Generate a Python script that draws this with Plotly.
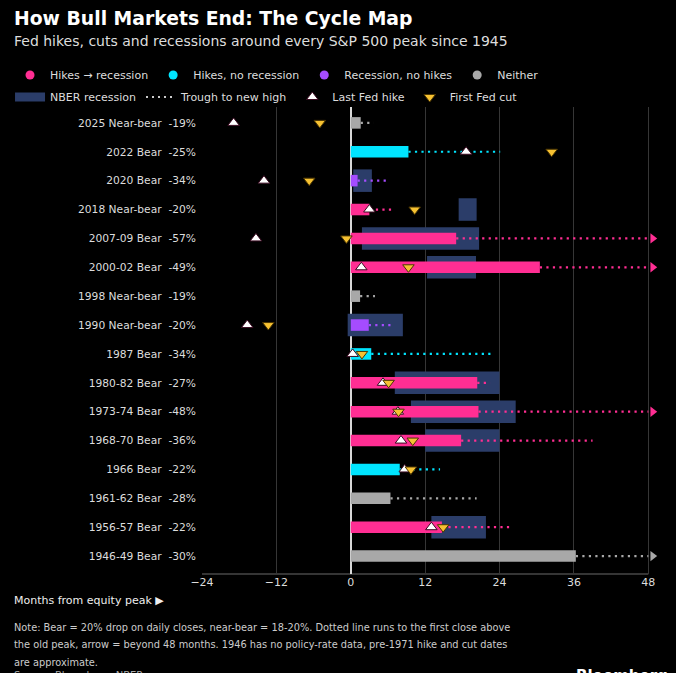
import plotly.graph_objects as go

# ---------------- data (months relative to the S&P 500 peak) ----------------
episodes = ["2025", "2022", "2020", "2018", "2007-09", "2000-02", "1998", "1990",
            "1987", "1980-82", "1973-74", "1968-70", "1966", "1961-62", "1956-57", "1946-49"]
severity = ["Near-bear", "Bear", "Bear", "Near-bear", "Bear", "Bear", "Near-bear", "Near-bear",
            "Bear", "Bear", "Bear", "Bear", "Bear", "Bear", "Bear", "Bear"]
drawdown_pct = [-19, -25, -34, -20, -57, -49, -19, -20, -34, -27, -48, -36, -22, -28, -22, -30]
category = ["Neither", "Hikes, no recession", "Recession, no hikes", "Hikes → recession",
            "Hikes → recession", "Hikes → recession", "Neither", "Recession, no hikes",
            "Hikes, no recession", "Hikes → recession", "Hikes → recession", "Hikes → recession",
            "Hikes, no recession", "Neither", "Hikes → recession", "Neither"]
peak_to_trough = [1.6, 9.3, 1.1, 3.0, 17.0, 30.5, 1.5, 2.9, 3.3, 20.4, 20.6, 17.8, 7.9, 6.4, 14.7, 36.3]
months_to_new_high = [3.7, 24.1, 6.0, 7.0, 65.5, 86.0, 3.9, 6.9, 22.6, 22.5, 90.0, 39.0, 14.4, 20.3, 25.6, 52.0]
last_hike = [-18.9, 18.6, -14.0, 3.0, -15.3, 1.7, None, -16.7, 0.3, 5.2, 7.6, 8.1, 8.7, None, 13.0, None]
first_cut = [-5.0, 32.4, -6.7, 10.3, -0.7, 9.3, None, -13.3, 1.8, 6.1, 7.7, 10.0, 9.7, None, 14.9, None]

nber_episode = ["2020", "2018", "2007-09", "2000-02", "1990", "1980-82", "1973-74", "1968-70", "1956-57"]
nber_start = [0.4, 17.4, 1.8, 12.3, -0.5, 7.1, 9.7, 12.0, 13.0]
nber_end = [3.4, 20.3, 20.7, 20.2, 8.4, 24.0, 26.6, 24.0, 21.8]

category_order = ["Hikes → recession", "Hikes, no recession", "Recession, no hikes", "Neither"]
x_ticks = [-24, -12, 0, 12, 24, 36, 48]

note_lines = [
    "Note: Bear = 20% drop on daily closes, near-bear = 18-20%. Dotted line runs to the first close above",
    "the old peak, arrow = beyond 48 months. 1946 has no policy-rate data, pre-1971 hike and cut dates",
    "are approximate.",
]

# ---------------- styling ----------------
FONT = "DejaVu Sans"
COLORS = {"Hikes → recession": "#ff2e93", "Hikes, no recession": "#00e5ff",
          "Recession, no hikes": "#a54cff", "Neither": "#a8a8a8"}
NBER_COLOR = "#2b3d69"
HIKE_COLOR = "#ffffff"
CUT_COLOR = "#f6c132"
TXT = "#dddddd"
W, H = 676, 673
X_MIN, X_MAX = -24, 48          # axis window shown with ticks / axis line
X_RANGE_MAX = 48.75             # a little room for the "beyond 48 months" arrows
ARROW_X = 48.7
L, T, B = 202, 107, 99
PX_PER_MONTH = 6.2
PLOT_W = PX_PER_MONTH * (X_RANGE_MAX - X_MIN)
R = W - L - PLOT_W
PLOT_H = H - T - B


def px_x(px):
    return (px - L) / PLOT_W


def px_y(py):
    return (H - B - py) / PLOT_H


rows = list(range(len(episodes)))
row_of = {e: i for i, e in enumerate(episodes)}
labels = [f"{e} {s}\u00a0 {d}%" for e, s, d in zip(episodes, severity, drawdown_pct)]

fig = go.Figure()

# NBER recession boxes
fig.add_trace(go.Bar(
    orientation="h",
    y=[row_of[e] for e in nber_episode],
    x=[e - s for s, e in zip(nber_start, nber_end)],
    base=nber_start,
    width=0.78,
    marker=dict(color=NBER_COLOR, line=dict(width=0)),
    showlegend=False, hoverinfo="skip",
))

# Peak-to-trough bars
fig.add_trace(go.Bar(
    orientation="h",
    y=rows,
    x=peak_to_trough,
    base=[0] * len(rows),
    width=0.4,
    marker=dict(color=[COLORS[c] for c in category], line=dict(width=0)),
    showlegend=False, hoverinfo="skip",
))

# Dotted trough-to-new-high lines and arrows
for cat in category_order:
    xs, ys, ax, ay = [], [], [], []
    for i in rows:
        if category[i] != cat:
            continue
        end = months_to_new_high[i]
        xs += [peak_to_trough[i], min(end, X_MAX), None]
        ys += [i, i, None]
        if end > X_MAX:
            ax.append(ARROW_X)
            ay.append(i)
    fig.add_trace(go.Scatter(
        x=xs, y=ys, mode="lines",
        line=dict(color=COLORS[cat], width=2.2, dash="2.2px,4.3px"),
        showlegend=False, hoverinfo="skip",
    ))
    if ax:
        fig.add_trace(go.Scatter(
            x=ax, y=ay, mode="markers", cliponaxis=False,
            marker=dict(symbol="triangle-right", size=9, color=COLORS[cat], line=dict(width=0)),
            showlegend=False, hoverinfo="skip",
        ))

# Legend row 1: category dots
for cat in category_order:
    fig.add_trace(go.Scatter(
        x=[None], y=[None], mode="markers", name=cat, legend="legend",
        marker=dict(symbol="circle", size=9, color=COLORS[cat]),
    ))

# Legend row 2
fig.add_trace(go.Scatter(
    x=[None], y=[None], mode="lines", name="NBER recession", legend="legend2",
    line=dict(color=NBER_COLOR, width=9),
))
fig.add_trace(go.Scatter(
    x=[None], y=[None], mode="lines", name="Trough to new high", legend="legend2",
    line=dict(color="#cccccc", width=2, dash="2px,4px"),
))
fig.add_trace(go.Scatter(
    x=last_hike, y=rows, mode="markers", name="Last Fed hike", legend="legend2",
    cliponaxis=False, hoverinfo="skip",
    marker=dict(symbol="triangle-up", size=10, color=HIKE_COLOR, line=dict(color="#3a0a20", width=1)),
))
fig.add_trace(go.Scatter(
    x=first_cut, y=rows, mode="markers", name="First Fed cut", legend="legend2",
    cliponaxis=False, hoverinfo="skip",
    marker=dict(symbol="triangle-down", size=10, color=CUT_COLOR, line=dict(color="#4a3500", width=1)),
))

legend_common = dict(
    orientation="h", xref="paper", yref="paper",
    xanchor="left", yanchor="middle",
    font=dict(family=FONT, size=11, color=TXT),
    bgcolor="rgba(0,0,0,0)", borderwidth=0, itemwidth=30,
)

annotations = [
    dict(text="Fed hikes, cuts and recessions around every S&P 500 peak since 1945",
         x=px_x(12), y=px_y(41), font=dict(size=14, color=TXT)),
    dict(text="Months from equity peak ▶", x=px_x(12), y=px_y(600),
         font=dict(size=11, color="#eeeeee")),
    dict(text="Source: Bloomberg, NBER", x=px_x(12), y=px_y(675),
         font=dict(size=10, color="#aaaaaa")),
    dict(text="<b>Bloomberg</b>", x=px_x(670), y=px_y(676), xanchor="right",
         font=dict(size=15, color="#ffffff")),
]
for k, line in enumerate(note_lines):
    annotations.append(dict(text=line, x=px_x(12), y=px_y(627 + 17.5 * k),
                            font=dict(size=9.8, color="#cccccc")))
for a in annotations:
    a.setdefault("xanchor", "left")
    a.update(xref="paper", yref="paper", yanchor="middle", showarrow=False)
    a["font"]["family"] = FONT

fig.update_layout(
    width=W, height=H,
    margin=dict(l=L, r=R, t=T, b=B, pad=0, autoexpand=False),
    paper_bgcolor="#000000", plot_bgcolor="#000000",
    font=dict(family=FONT, color=TXT),
    barmode="overlay",
    title=dict(text="<b>How Bull Markets End: The Cycle Map</b>",
               xref="container", yref="container", x=14 / W, y=1 - 18 / H,
               xanchor="left", yanchor="middle",
               font=dict(family=FONT, size=18.8, color="#ffffff")),
    legend=dict(legend_common, x=px_x(10), y=px_y(75)),
    legend2=dict(legend_common, x=px_x(10), y=px_y(97)),
    xaxis=dict(range=[X_MIN, X_RANGE_MAX], tickvals=x_ticks, showgrid=True, gridcolor="#363636",
               gridwidth=1, zeroline=True, zerolinecolor="#d8d8d8", zerolinewidth=1.5,
               showline=False, ticks="", tickfont=dict(size=11, color=TXT), fixedrange=True),
    yaxis=dict(range=[15.62, -0.55], tickvals=rows, ticktext=labels, showgrid=False,
               zeroline=False, showline=False, ticks="", ticklabelstandoff=5,
               tickfont=dict(size=10.7, color=TXT), fixedrange=True),
    shapes=[dict(type="line", xref="x", yref="paper", x0=X_MIN, x1=X_MAX, y0=0, y1=0,
                 line=dict(color="#6a6a6a", width=1), layer="below")],
    annotations=annotations,
    showlegend=True,
)

fig.write_html("out.html", config={"displayModeBar": False},
               post_script="document.body.style.margin='0';")
